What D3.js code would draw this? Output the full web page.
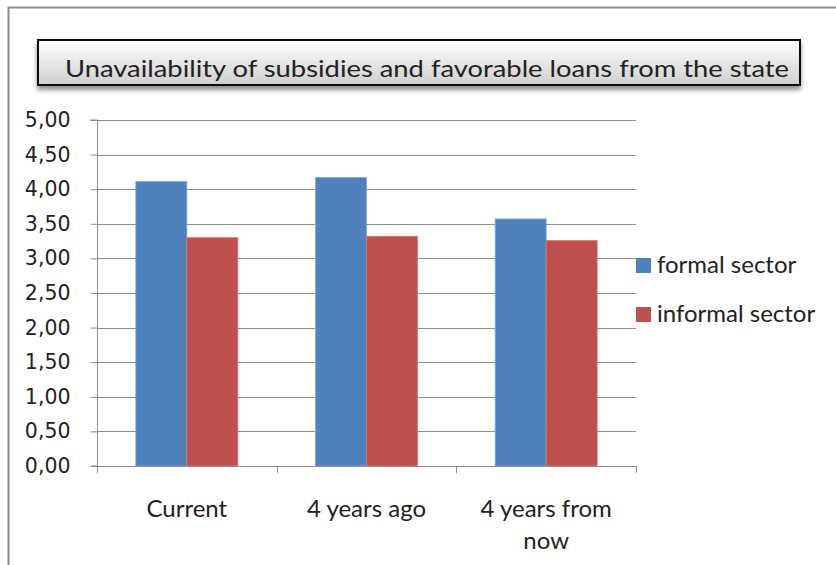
<!DOCTYPE html>
<html>
<head>
<meta charset="utf-8">
<script src="https://cdn.jsdelivr.net/npm/d3@7"></script>
<style>
  html, body { margin: 0; padding: 0; background: #fff; }
  svg { display: block; }
</style>
</head>
<body>
<svg id="chart" width="836" height="565"></svg>
<script>
// Mean scores by period, for each sector
const categories = ["Current", "4 years ago", "4 years from now"];
const categoryLines = [["Current"], ["4 years ago"], ["4 years from", "now"]];
const seriesNames = ["formal sector", "informal sector"];
const formalValues = [4.11, 4.17, 3.57];
const informalValues = [3.30, 3.32, 3.26];
const yTicks = [0, 0.5, 1, 1.5, 2, 2.5, 3, 3.5, 4, 4.5, 5];
const titleText = "Unavailability of subsidies and favorable loans from the state";

const colors = ["#4F81BD", "#C0504D"];
const strokes = ["#7EA6D8", "#D07A78"];
const seriesValues = [formalValues, informalValues];

const svg = d3.select("#chart");
const uiFont = "Lato, 'Open Sans', sans-serif";

// Outer chart frame
svg.append("rect")
  .attr("x", 8.5).attr("y", 7.5)
  .attr("width", 840).attr("height", 570)
  .attr("fill", "#fff").attr("stroke", "#8a8a8a").attr("stroke-width", 2);

// Plot area
const plotLeft = 97, plotRight = 636, plotTop = 120, plotBottom = 466;

const x0 = d3.scaleBand().domain(categories).range([plotLeft, plotRight]).paddingInner(0).paddingOuter(0);
const barGroup = 102;
const x1 = d3.scaleBand().domain(seriesNames).range([0, barGroup]).padding(0);
const y = d3.scaleLinear().domain([0, 5]).range([plotBottom, plotTop]);

// Horizontal gridlines
svg.append("g").selectAll("line").data(yTicks.filter(d => d > 0)).join("line")
  .attr("x1", plotLeft).attr("x2", plotRight)
  .attr("y1", d => Math.round(y(d)) + 0.5).attr("y2", d => Math.round(y(d)) + 0.5)
  .attr("stroke", "#8c8c8c").attr("stroke-width", 1);

// Bars
const groups = svg.append("g").selectAll("g").data(categories).join("g")
  .attr("transform", c => `translate(${x0(c) + (x0.bandwidth() - barGroup) / 2},0)`);

groups.selectAll("rect").data((c, i) => seriesNames.map((s, k) => ({ s, k, v: seriesValues[k][i] })))
  .join("rect")
  .attr("x", d => x1(d.s))
  .attr("width", x1.bandwidth())
  .attr("y", d => y(d.v))
  .attr("height", d => y(0) - y(d.v))
  .attr("fill", d => colors[d.k])
  .attr("stroke", d => strokes[d.k])
  .attr("stroke-width", 0.8);

// Y axis
const yAxis = d3.axisLeft(y).tickValues(yTicks).tickSize(7).tickPadding(20)
  .tickFormat(d => d3.format(".2f")(d).replace(".", ","));
const yg = svg.append("g").attr("transform", `translate(${plotLeft + 0.5},0)`).call(yAxis);
yg.select(".domain").attr("stroke", "#8c8c8c").attr("d", `M-7,${plotTop}H0V${plotBottom}H-7`);
yg.selectAll(".tick line").attr("stroke", "#8c8c8c");
yg.selectAll(".tick text")
  .attr("fill", "#222").attr("font-family", "'DejaVu Sans', Verdana, sans-serif").attr("font-size", 20.5);

// X axis baseline with separators between categories
const xg = svg.append("g");
xg.append("line").attr("x1", plotLeft).attr("x2", plotRight)
  .attr("y1", plotBottom + 0.5).attr("y2", plotBottom + 0.5).attr("stroke", "#8c8c8c");
const boundaries = categories.map(c => x0(c)).concat([plotRight]);
xg.selectAll("line.sep").data(boundaries).join("line").attr("class", "sep")
  .attr("x1", d => Math.round(d) + 0.5).attr("x2", d => Math.round(d) + 0.5)
  .attr("y1", plotBottom).attr("y2", plotBottom + 7).attr("stroke", "#8c8c8c");

// Category labels
categories.forEach((c, i) => {
  const cx = x0(c) + x0.bandwidth() / 2;
  const t = svg.append("text")
    .attr("x", cx).attr("y", 517)
    .attr("text-anchor", "middle")
    .attr("font-family", uiFont).attr("font-size", 24).attr("fill", "#222");
  categoryLines[i].forEach((line, j) => {
    t.append("tspan").attr("x", cx).attr("dy", j === 0 ? 0 : 32).text(line);
  });
});

// Legend
const legend = svg.append("g").selectAll("g").data(seriesNames).join("g")
  .attr("transform", (d, i) => `translate(636,${258 + i * 49})`);
legend.append("rect").attr("width", 15).attr("height", 15).attr("fill", (d, i) => colors[i]);
legend.append("text").attr("x", 21).attr("y", 15)
  .attr("font-family", uiFont).attr("font-size", 24).attr("fill", "#222")
  .text(d => d);

// Title box with gradient and drop shadow
const defs = svg.append("defs");
const grad = defs.append("linearGradient").attr("id", "titleGrad")
  .attr("x1", 0).attr("y1", 0).attr("x2", 0).attr("y2", 1);
grad.append("stop").attr("offset", "0%").attr("stop-color", "#ffffff");
grad.append("stop").attr("offset", "100%").attr("stop-color", "#cfcfcf");
const shadow = defs.append("filter").attr("id", "titleShadow")
  .attr("x", "-5%").attr("y", "-20%").attr("width", "110%").attr("height", "160%");
shadow.append("feGaussianBlur").attr("in", "SourceAlpha").attr("stdDeviation", 2.5);
shadow.append("feOffset").attr("dx", 0).attr("dy", 4).attr("result", "off");
shadow.append("feComponentTransfer").append("feFuncA").attr("type", "linear").attr("slope", 0.45);
const merge = shadow.append("feMerge");
merge.append("feMergeNode");
merge.append("feMergeNode").attr("in", "SourceGraphic");

svg.append("rect")
  .attr("x", 38).attr("y", 40).attr("width", 762).attr("height", 45)
  .attr("fill", "url(#titleGrad)").attr("stroke", "#111").attr("stroke-width", 2)
  .attr("filter", "url(#titleShadow)");
svg.append("text")
  .attr("x", 427).attr("y", 77)
  .attr("text-anchor", "middle")
  .attr("font-family", uiFont).attr("font-size", 24).attr("fill", "#222")
  .attr("textLength", 724).attr("lengthAdjust", "spacingAndGlyphs")
  .text(titleText);
</script>
</body>
</html>
